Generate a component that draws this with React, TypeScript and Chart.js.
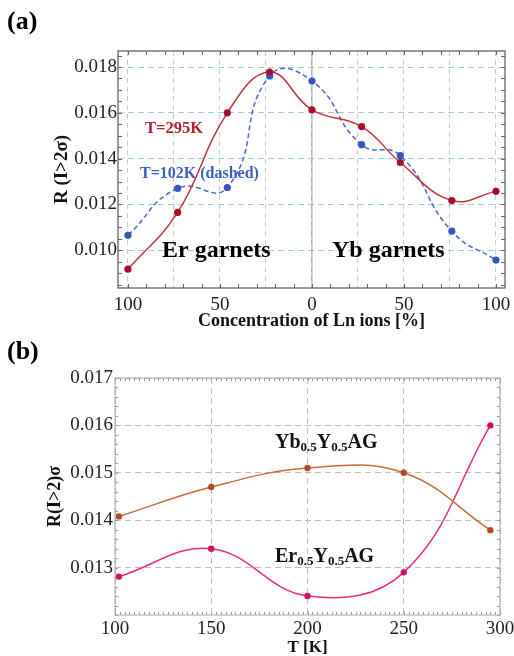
import React, { useEffect, useRef } from "react";
import { Chart, registerables } from "chart.js";

Chart.register(...registerables);

// ---------- Panel (a) data ----------
const concA = [-100, -73, -46, -23, 0, 27, 48, 76, 100]; // negative = Er garnets, positive = Yb garnets
const r295 = [0.00917, 0.01165, 0.016, 0.01778, 0.01613, 0.0154, 0.01383, 0.01217, 0.01257];
const r102 = [0.01065, 0.0127, 0.01274, 0.01761, 0.01739, 0.01461, 0.01413, 0.01083, 0.00957];
const concTicks = [-100, -75, -50, -25, 0, 25, 50, 75, 100];
const rTicksA = [0.01, 0.012, 0.014, 0.016, 0.018];

// ---------- Panel (b) data ----------
const tempB = [102, 150, 200, 250, 295];
const ybB = [0.01408, 0.0147, 0.0151, 0.015, 0.01379];
const erB = [0.01281, 0.0134, 0.0124, 0.0129, 0.016];
const tTicksB = [100, 150, 200, 250, 300];
const rTicksB = [0.013, 0.014, 0.015, 0.016, 0.017];

const SERIF = "'Liberation Serif', 'Times New Roman', serif";

type Part = { t: string; sub?: boolean };
type Label = { x: number; y: number; parts: Part[]; size: number; color: string };

const framePlugin = {
  id: "frame",
  beforeDatasetsDraw(chart: any, _args: any, opts: any) {
    const { ctx, chartArea: a, scales } = chart;
    const x = scales.x;
    const y = scales.y;
    ctx.save();
    if (opts.zeroLine) {
      const px = x.getPixelForValue(0);
      ctx.strokeStyle = opts.zeroColor;
      ctx.lineWidth = 1;
      ctx.setLineDash([]);
      ctx.beginPath();
      ctx.moveTo(px, a.top);
      ctx.lineTo(px, a.bottom);
      ctx.stroke();
    }
    ctx.strokeStyle = opts.tickColor;
    ctx.lineWidth = 1;
    ctx.setLineDash([]);
    const len = opts.tickLen;
    const k0 = Math.ceil(x.min / opts.xStep - 1e-9);
    const k1 = Math.floor(x.max / opts.xStep + 1e-9);
    ctx.beginPath();
    for (let k = k0; k <= k1; k++) {
      const px = Math.round(x.getPixelForValue(k * opts.xStep)) + 0.5;
      ctx.moveTo(px, a.top);
      ctx.lineTo(px, a.top + len);
      ctx.moveTo(px, a.bottom);
      ctx.lineTo(px, a.bottom - len);
    }
    const j0 = Math.ceil(y.min / opts.yStep - 1e-9);
    const j1 = Math.floor(y.max / opts.yStep + 1e-9);
    for (let j = j0; j <= j1; j++) {
      const py = Math.round(y.getPixelForValue(j * opts.yStep)) + 0.5;
      ctx.moveTo(a.left, py);
      ctx.lineTo(a.left + len, py);
      ctx.moveTo(a.right, py);
      ctx.lineTo(a.right - len, py);
    }
    ctx.stroke();
    ctx.strokeStyle = opts.color;
    ctx.lineWidth = opts.width;
    ctx.strokeRect(a.left, a.top, a.right - a.left, a.bottom - a.top);
    ctx.restore();
  },
};

const textPlugin = {
  id: "texts",
  afterDraw(chart: any, _args: any, opts: any) {
    const { ctx } = chart;
    const labels: Label[] = opts.labels || [];
    ctx.save();
    ctx.textBaseline = "alphabetic";
    ctx.textAlign = "left";
    for (const l of labels) {
      let cx = l.x;
      ctx.fillStyle = l.color;
      for (const p of l.parts) {
        const size = p.sub ? Math.round(l.size * 0.65) : l.size;
        ctx.font = `bold ${size}px ${SERIF}`;
        ctx.fillText(p.t, cx, l.y + (p.sub ? l.size * 0.17 : 0));
        cx += ctx.measureText(p.t).width;
      }
    }
    ctx.restore();
  },
};

const tickFont = { family: SERIF, size: 19 };
const titleFont = { family: SERIF, size: 18, weight: "bold" as const, lineHeight: 1 };

function makeA(canvas: HTMLCanvasElement) {
  return new Chart(canvas, {
    type: "line",
    data: {
      datasets: [
        {
          label: "T=295K",
          data: concA.map((x, i) => ({ x, y: r295[i] })),
          borderColor: "#c4343c",
          backgroundColor: "#a60f2c",
          pointBackgroundColor: "#a60f2c",
          pointBorderWidth: 0,
          pointRadius: 3.6,
          borderWidth: 1.5,
          tension: 0.42,
        },
        {
          label: "T=102K (dashed)",
          data: concA.map((x, i) => ({ x, y: r102[i] })),
          borderColor: "#4a68cc",
          backgroundColor: "#3456c2",
          pointBackgroundColor: "#3456c2",
          pointBorderWidth: 0,
          pointRadius: 3.6,
          borderWidth: 1.5,
          borderDash: [5, 3],
          tension: 0.5,
        },
      ],
    },
    options: {
      animation: false,
      responsive: false,
      layout: { padding: { left: 0, right: 9, top: 51, bottom: 0 } },
      plugins: {
        legend: { display: false },
        tooltip: { enabled: false },
        frame: {
          zeroLine: true,
          zeroColor: "#a0a0a0",
          tickColor: "#666",
          tickLen: 4,
          xStep: 10,
          yStep: 0.0005,
          color: "#555",
          width: 1.2,
        },
        texts: {
          labels: [
            { x: 7, y: 29, parts: [{ t: "(a)" }], size: 26, color: "#000" },
            { x: 145, y: 133, parts: [{ t: "T=295K" }], size: 16.5, color: "#b0202f" },
            { x: 140, y: 178, parts: [{ t: "T=102K (dashed)" }], size: 16, color: "#3f5fc0" },
            { x: 162, y: 257, parts: [{ t: "Er garnets" }], size: 24, color: "#000" },
            { x: 332, y: 257, parts: [{ t: "Yb garnets" }], size: 24, color: "#000" },
          ],
        },
      } as any,
      scales: {
        x: {
          type: "linear",
          min: -105.4,
          max: 104.9,
          afterBuildTicks: (s: any) => {
            s.ticks = concTicks.map((v) => ({ value: v }));
          },
          afterFit: (s: any) => {
            s.height = 44;
            s.paddingLeft = 0;
            s.paddingRight = 0;
          },
          ticks: {
            autoSkip: false,
            maxRotation: 0,
            padding: 6,
            font: tickFont,
            color: "#222",
            callback: (v: any) => (Number(v) % 50 === 0 ? String(Math.abs(Number(v))) : ""),
          },
          grid: { color: "#cbcbcb", lineWidth: 1, drawTicks: false },
          border: { display: false, dash: [5, 4] },
          title: {
            display: true,
            text: "Concentration of Ln ions [%]",
            font: titleFont,
            color: "#111",
            padding: { top: 0, bottom: 2 },
          },
        },
        y: {
          type: "linear",
          min: 0.00835,
          max: 0.0187,
          afterBuildTicks: (s: any) => {
            s.ticks = rTicksA.map((v) => ({ value: v }));
          },
          afterFit: (s: any) => {
            s.width = 118;
            s.paddingTop = 0;
            s.paddingBottom = 0;
          },
          ticks: {
            padding: 1,
            font: tickFont,
            color: "#222",
            callback: (v: any) => Number(v).toFixed(3),
          },
          grid: { color: "#9ccfcf", lineWidth: 1, drawTicks: false },
          border: { display: false, dash: [6, 4] },
          title: {
            display: true,
            text: "R (I>2σ)",
            font: { ...titleFont, size: 19 },
            color: "#111",
            padding: { top: 53, bottom: 0 },
          },
        },
      },
    },
    plugins: [framePlugin, textPlugin],
  } as any);
}

function makeB(canvas: HTMLCanvasElement) {
  return new Chart(canvas, {
    type: "line",
    data: {
      datasets: [
        {
          label: "Yb0.5Y0.5AG",
          data: tempB.map((x, i) => ({ x, y: ybB[i] })),
          borderColor: "#c96a3a",
          backgroundColor: "#b04a28",
          pointBackgroundColor: "#b04a28",
          pointBorderWidth: 0,
          pointRadius: 3.2,
          borderWidth: 1.5,
          tension: 0.4,
        },
        {
          label: "Er0.5Y0.5AG",
          data: tempB.map((x, i) => ({ x, y: erB[i] })),
          borderColor: "#ec2a86",
          backgroundColor: "#d0125c",
          pointBackgroundColor: "#d0125c",
          pointBorderWidth: 0,
          pointRadius: 3.2,
          borderWidth: 1.5,
          tension: 0.4,
        },
      ],
    },
    options: {
      animation: false,
      responsive: false,
      layout: { padding: { left: 0, right: 14, top: 46, bottom: 0 } },
      plugins: {
        legend: { display: false },
        tooltip: { enabled: false },
        frame: {
          zeroLine: false,
          tickColor: "#999",
          tickLen: 3,
          xStep: 2.5,
          yStep: 0.0002,
          color: "#a8a8a8",
          width: 1,
        },
        texts: {
          labels: [
            { x: 7, y: 27, parts: [{ t: "(b)" }], size: 26, color: "#000" },
            {
              x: 275,
              y: 116,
              parts: [{ t: "Yb" }, { t: "0.5", sub: true }, { t: "Y" }, { t: "0.5", sub: true }, { t: "AG" }],
              size: 20,
              color: "#111",
            },
            {
              x: 275,
              y: 230,
              parts: [{ t: "Er" }, { t: "0.5", sub: true }, { t: "Y" }, { t: "0.5", sub: true }, { t: "AG" }],
              size: 20,
              color: "#111",
            },
          ],
        },
      } as any,
      scales: {
        x: {
          type: "linear",
          min: 100,
          max: 300,
          afterBuildTicks: (s: any) => {
            s.ticks = tTicksB.map((v) => ({ value: v }));
          },
          afterFit: (s: any) => {
            s.height = 41;
            s.paddingLeft = 0;
            s.paddingRight = 0;
          },
          ticks: {
            autoSkip: false,
            maxRotation: 0,
            padding: 3,
            font: tickFont,
            color: "#222",
            callback: (v: any) => String(v),
          },
          grid: { color: "#bdbdbd", lineWidth: 1, drawTicks: false },
          border: { display: false, dash: [6, 4] },
          title: {
            display: true,
            text: "T [K]",
            font: { ...titleFont, size: 17 },
            color: "#111",
            padding: { top: 0, bottom: 0 },
          },
        },
        y: {
          type: "linear",
          min: 0.012,
          max: 0.017,
          afterBuildTicks: (s: any) => {
            s.ticks = rTicksB.map((v) => ({ value: v }));
          },
          afterFit: (s: any) => {
            s.width = 115;
            s.paddingTop = 0;
            s.paddingBottom = 0;
          },
          ticks: {
            padding: 2,
            font: tickFont,
            color: "#222",
            callback: (v: any) => Number(v).toFixed(3),
          },
          grid: { color: "#bdbdbd", lineWidth: 1, drawTicks: false },
          border: { display: false, dash: [6, 4] },
          title: {
            display: true,
            text: "R(I>2)σ",
            font: titleFont,
            color: "#111",
            padding: { top: 46, bottom: 0 },
          },
        },
      },
    },
    plugins: [framePlugin, textPlugin],
  } as any);
}

export default function App() {
  const refA = useRef<HTMLCanvasElement>(null);
  const refB = useRef<HTMLCanvasElement>(null);
  useEffect(() => {
    const a = makeA(refA.current!);
    const b = makeB(refB.current!);
    return () => {
      a.destroy();
      b.destroy();
    };
  }, []);
  return (
    <div style={{ position: "absolute", left: 0, top: 0, width: 514, height: 656, background: "#fff" }}>
      <canvas
        ref={refA}
        width={514}
        height={332}
        style={{ position: "absolute", left: 0, top: 0, width: 514, height: 332 }}
      />
      <canvas
        ref={refB}
        width={514}
        height={324}
        style={{ position: "absolute", left: 0, top: 332, width: 514, height: 324 }}
      />
    </div>
  );
}
